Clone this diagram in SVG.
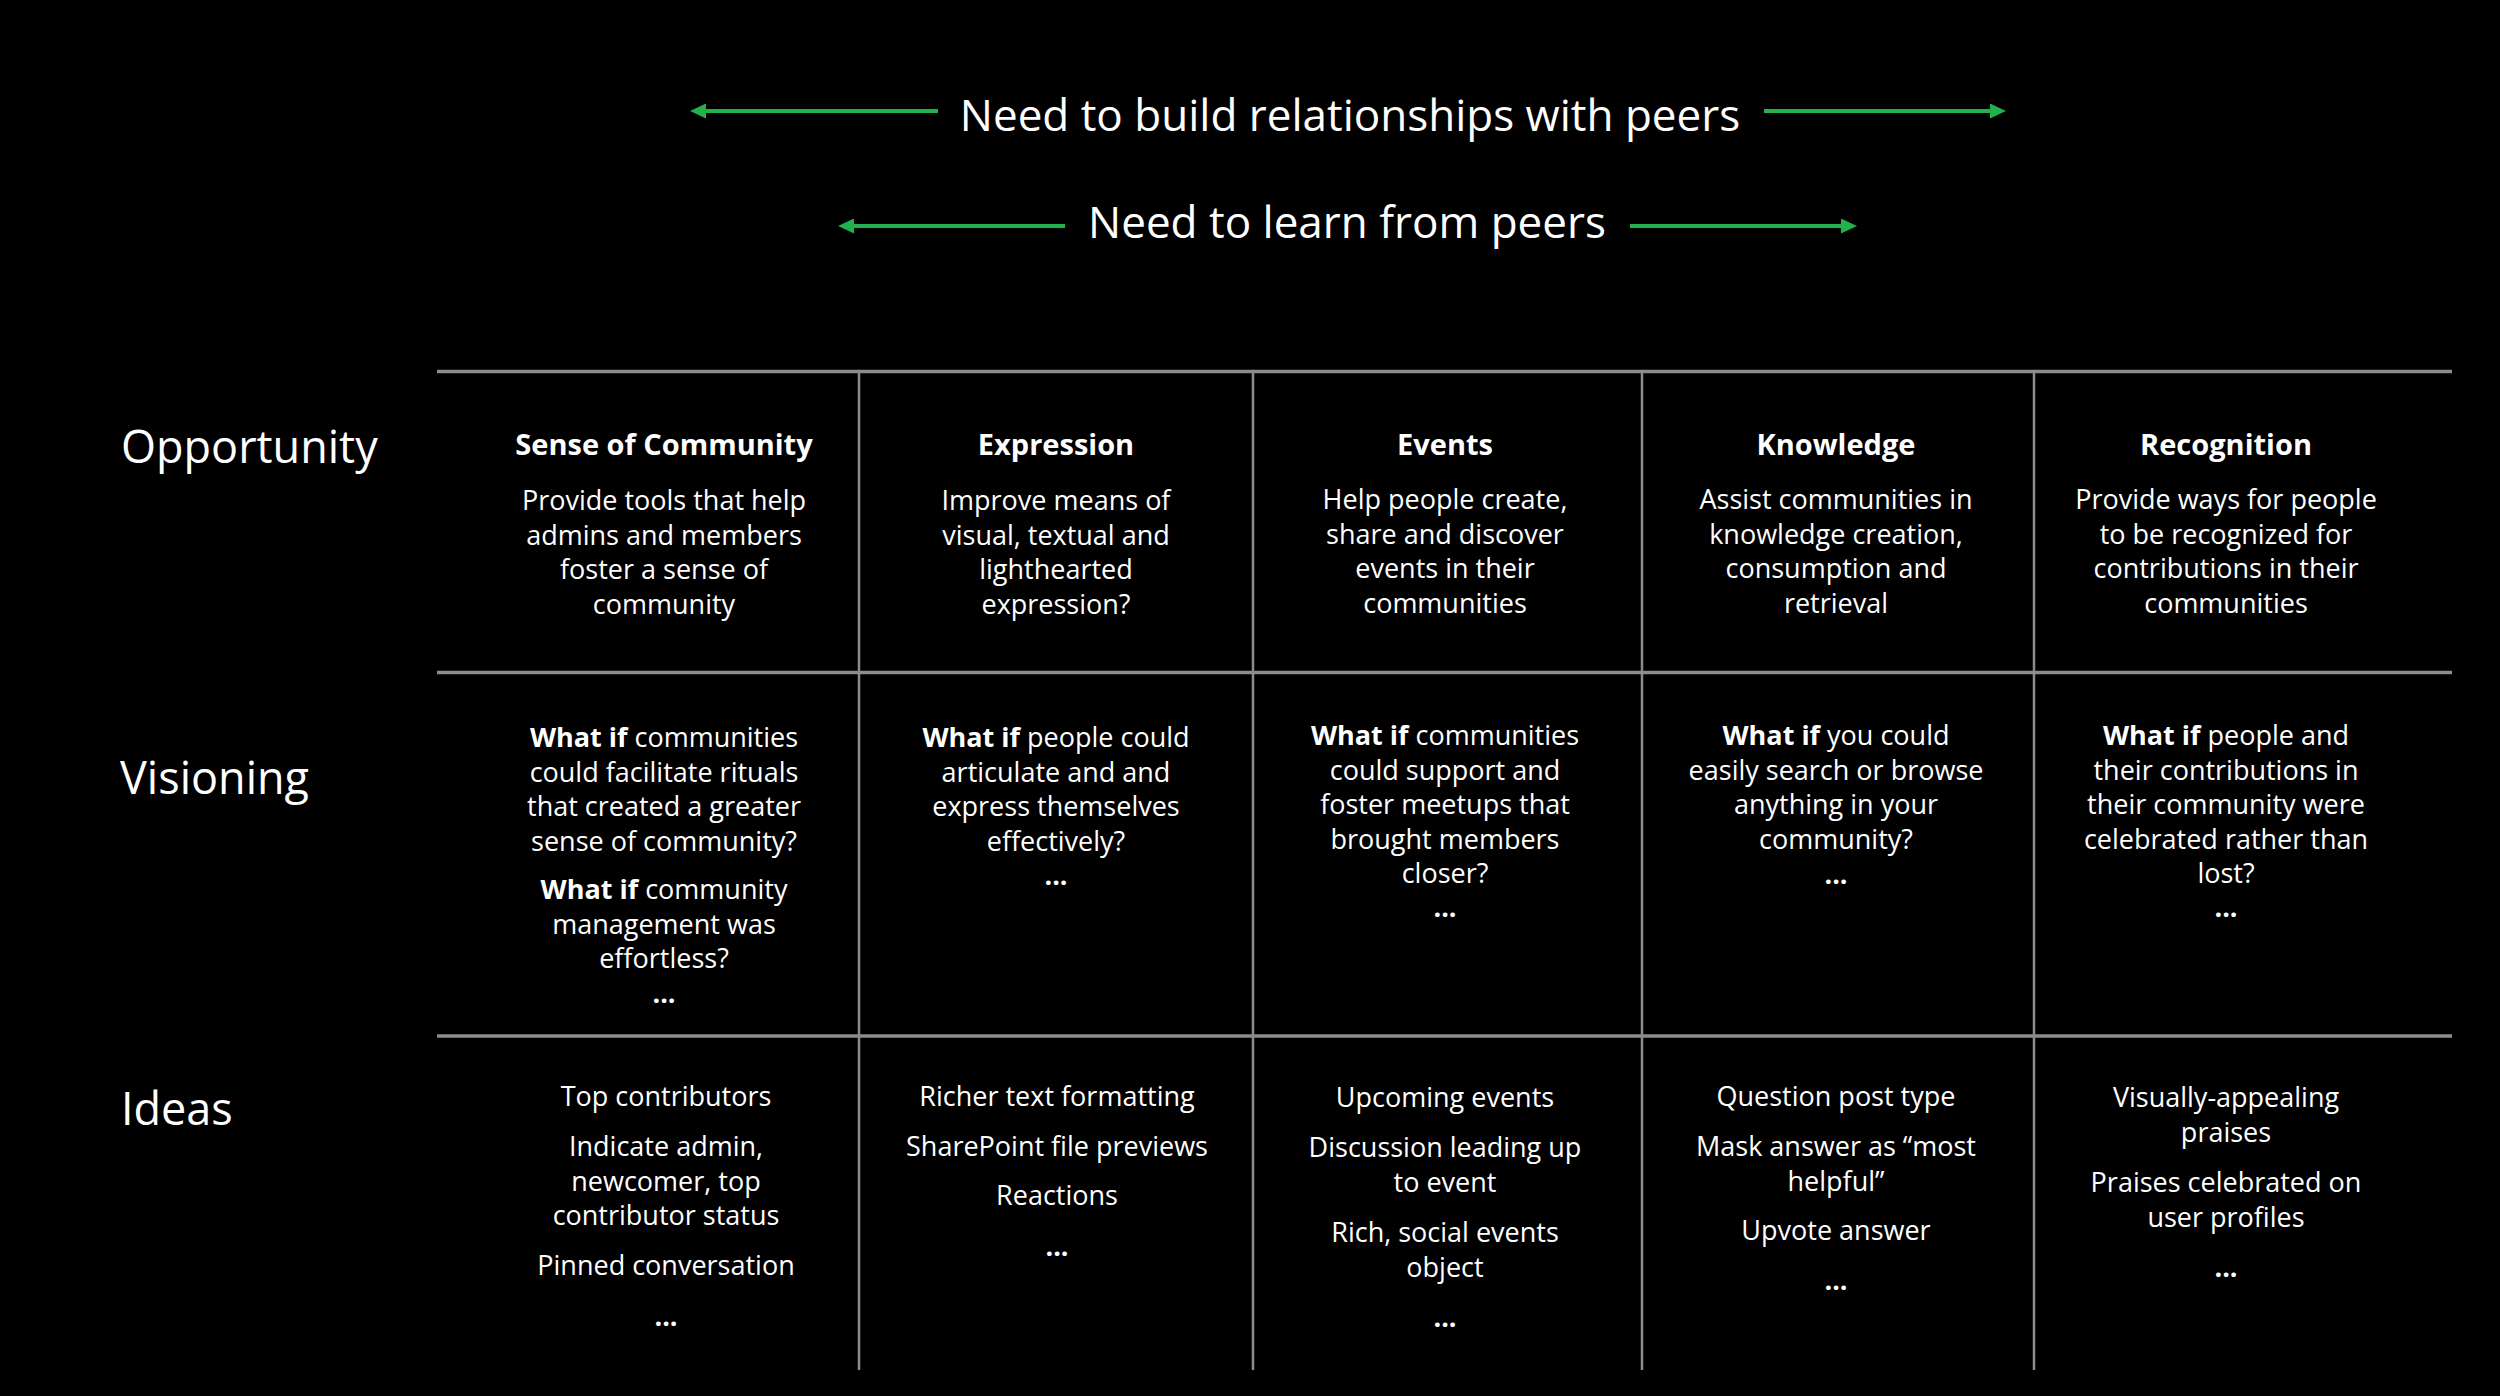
<svg xmlns="http://www.w3.org/2000/svg" width="2500" height="1396" viewBox="0 0 2500 1396">
<style>
text{font-family:"Open Sans","Noto Sans","Liberation Sans",sans-serif;fill:#ffffff}
.hdr{font-size:44px;text-anchor:middle}
.row{font-size:45px}
.ttl{font-size:29px;font-weight:bold;text-anchor:middle}
.b{font-size:27px;text-anchor:middle}
.k{font-weight:bold}
.dots{font-size:27px;font-weight:bold;text-anchor:middle}
.grid-h{stroke:#8c8c8c;stroke-width:3.5}
.grid-v{stroke:#8c8c8c;stroke-width:2.5}
.arr{stroke:#22b14c;stroke-width:4;marker-end:url(#head)}
</style>
<defs>
<marker id="head" markerUnits="userSpaceOnUse" markerWidth="16" markerHeight="15" refX="1" refY="7.5" orient="auto">
<path d="M0,0 L16,7.5 L0,15 z" fill="#22b14c"/>
</marker>
</defs>
<rect x="0" y="0" width="2500" height="1396" fill="#000000"/>

<g id="connectors">
<line class="arr" x1="938" y1="111" x2="705" y2="111"/>
<line class="arr" x1="1764" y1="111" x2="1991" y2="111"/>
<line class="arr" x1="1065" y1="226" x2="853" y2="226"/>
<line class="arr" x1="1630" y1="226" x2="1842" y2="226"/>
</g>

<g id="grid">
<line class="grid-h" x1="437" y1="371.5" x2="2452" y2="371.5"/>
<line class="grid-h" x1="437" y1="672.5" x2="2452" y2="672.5"/>
<line class="grid-h" x1="437" y1="1036" x2="2452" y2="1036"/>
<line class="grid-v" x1="859" y1="371" x2="859" y2="1370"/>
<line class="grid-v" x1="1253" y1="371" x2="1253" y2="1370"/>
<line class="grid-v" x1="1642" y1="371" x2="1642" y2="1370"/>
<line class="grid-v" x1="2034" y1="371" x2="2034" y2="1370"/>
</g>

<g id="need-relationships"><text class="hdr" x="1350" y="131">Need to build relationships with peers</text></g>
<g id="need-learn"><text class="hdr" x="1347" y="238">Need to learn from peers</text></g>

<g id="label-opportunity"><text class="row" x="121" y="463">Opportunity</text></g>
<g id="label-visioning"><text class="row" x="120" y="794">Visioning</text></g>
<g id="label-ideas"><text class="row" x="121" y="1125">Ideas</text></g>

<g id="opp-sense">
<text class="ttl" x="664" y="455">Sense of Community</text>
<text class="b" x="664" y="510">Provide tools that help</text>
<text class="b" x="664" y="544.5">admins and members</text>
<text class="b" x="664" y="579">foster a sense of</text>
<text class="b" x="664" y="613.5">community</text>
</g>
<g id="opp-expression">
<text class="ttl" x="1056" y="455">Expression</text>
<text class="b" x="1056" y="510">Improve means of</text>
<text class="b" x="1056" y="544.5">visual, textual and</text>
<text class="b" x="1056" y="579">lighthearted</text>
<text class="b" x="1056" y="613.5">expression?</text>
</g>
<g id="opp-events">
<text class="ttl" x="1445" y="455">Events</text>
<text class="b" x="1445" y="509">Help people create,</text>
<text class="b" x="1445" y="543.5">share and discover</text>
<text class="b" x="1445" y="578">events in their</text>
<text class="b" x="1445" y="612.5">communities</text>
</g>
<g id="opp-knowledge">
<text class="ttl" x="1836" y="455">Knowledge</text>
<text class="b" x="1836" y="509">Assist communities in</text>
<text class="b" x="1836" y="543.5">knowledge creation,</text>
<text class="b" x="1836" y="578">consumption and</text>
<text class="b" x="1836" y="612.5">retrieval</text>
</g>
<g id="opp-recognition">
<text class="ttl" x="2226" y="455">Recognition</text>
<text class="b" x="2226" y="509">Provide ways for people</text>
<text class="b" x="2226" y="543.5">to be recognized for</text>
<text class="b" x="2226" y="578">contributions in their</text>
<text class="b" x="2226" y="612.5">communities</text>
</g>

<g id="vis-sense">
<text class="b" x="664" y="747"><tspan class="k">What if</tspan> communities</text>
<text class="b" x="664" y="781.5">could facilitate rituals</text>
<text class="b" x="664" y="816">that created a greater</text>
<text class="b" x="664" y="850.5">sense of community?</text>
<text class="b" x="664" y="899"><tspan class="k">What if</tspan> community</text>
<text class="b" x="664" y="933.5">management was</text>
<text class="b" x="664" y="968">effortless?</text>
<text class="dots" x="664" y="1003">...</text>
</g>
<g id="vis-expression">
<text class="b" x="1056" y="747"><tspan class="k">What if</tspan> people could</text>
<text class="b" x="1056" y="781.5">articulate and and</text>
<text class="b" x="1056" y="816">express themselves</text>
<text class="b" x="1056" y="850.5">effectively?</text>
<text class="dots" x="1056" y="885">...</text>
</g>
<g id="vis-events">
<text class="b" x="1445" y="745"><tspan class="k">What if</tspan> communities</text>
<text class="b" x="1445" y="779.5">could support and</text>
<text class="b" x="1445" y="814">foster meetups that</text>
<text class="b" x="1445" y="848.5">brought members</text>
<text class="b" x="1445" y="883">closer?</text>
<text class="dots" x="1445" y="917">...</text>
</g>
<g id="vis-knowledge">
<text class="b" x="1836" y="745"><tspan class="k">What if</tspan> you could</text>
<text class="b" x="1836" y="779.5">easily search or browse</text>
<text class="b" x="1836" y="814">anything in your</text>
<text class="b" x="1836" y="848.5">community?</text>
<text class="dots" x="1836" y="884">...</text>
</g>
<g id="vis-recognition">
<text class="b" x="2226" y="745"><tspan class="k">What if</tspan> people and</text>
<text class="b" x="2226" y="779.5">their contributions in</text>
<text class="b" x="2226" y="814">their community were</text>
<text class="b" x="2226" y="848.5">celebrated rather than</text>
<text class="b" x="2226" y="883">lost?</text>
<text class="dots" x="2226" y="917">...</text>
</g>

<g id="ideas-sense">
<text class="b" x="666" y="1106">Top contributors</text>
<text class="b" x="666" y="1156">Indicate admin,</text>
<text class="b" x="666" y="1190.5">newcomer, top</text>
<text class="b" x="666" y="1225">contributor status</text>
<text class="b" x="666" y="1275">Pinned conversation</text>
<text class="dots" x="666" y="1326">...</text>
</g>
<g id="ideas-expression">
<text class="b" x="1057" y="1106">Richer text formatting</text>
<text class="b" x="1057" y="1156">SharePoint file previews</text>
<text class="b" x="1057" y="1205">Reactions</text>
<text class="dots" x="1057" y="1256">...</text>
</g>
<g id="ideas-events">
<text class="b" x="1445" y="1107">Upcoming events</text>
<text class="b" x="1445" y="1157">Discussion leading up</text>
<text class="b" x="1445" y="1191.5">to event</text>
<text class="b" x="1445" y="1242">Rich, social events</text>
<text class="b" x="1445" y="1276.5">object</text>
<text class="dots" x="1445" y="1327">...</text>
</g>
<g id="ideas-knowledge">
<text class="b" x="1836" y="1106">Question post type</text>
<text class="b" x="1836" y="1156">Mask answer as “most</text>
<text class="b" x="1836" y="1190.5">helpful”</text>
<text class="b" x="1836" y="1240">Upvote answer</text>
<text class="dots" x="1836" y="1290">...</text>
</g>
<g id="ideas-recognition">
<text class="b" x="2226" y="1107">Visually-appealing</text>
<text class="b" x="2226" y="1141.5">praises</text>
<text class="b" x="2226" y="1192">Praises celebrated on</text>
<text class="b" x="2226" y="1226.5">user profiles</text>
<text class="dots" x="2226" y="1277">...</text>
</g>
</svg>
